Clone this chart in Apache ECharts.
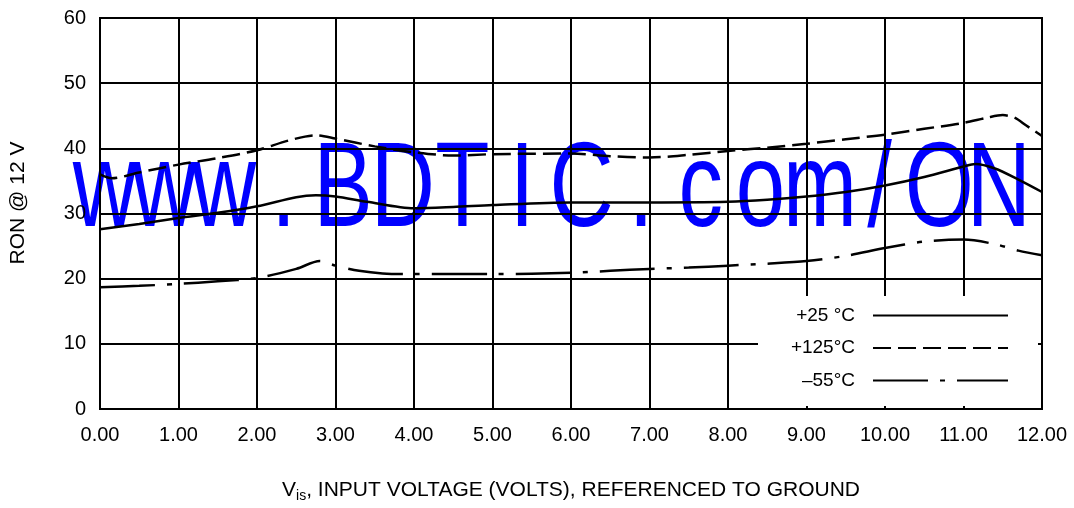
<!DOCTYPE html>
<html><head><meta charset="utf-8">
<script src="https://cdn.jsdelivr.net/npm/echarts@6/dist/echarts.min.js"></script>
<style>html,body{margin:0;padding:0;background:#fff}#c{width:1074px;height:508px}</style>
</head><body><div id="c"></div>
<script>
const xTicks = [0,1,2,3,4,5,6,7,8,9,10,11,12];
const yTicks = [0,10,20,30,40,50,60];
const seriesNames = ['+25 °C', '+125°C', '\u201355°C'];
const v25 = [0,0.5,1,1.5,2,2.5,2.75,3,3.4,4,4.5,5,6,7,8,8.5,9,9.5,10,10.5,11,11.15,11.4,11.7,12];
const r25 = [27.6,28.4,29.3,30.1,31.1,32.5,32.8,32.6,31.8,30.8,31.0,31.3,31.7,31.7,31.8,32.1,32.6,33.3,34.3,35.6,37.2,37.6,36.9,35.2,33.3];
const v125 = [0,0.15,0.5,1,1.5,2,2.4,2.75,3,3.5,4,4.5,5,6,6.5,7,7.5,8,8.5,9,9.5,10,10.5,11,11.3,11.5,11.65,11.8,12];
const r125 = [36.0,35.4,36.3,37.5,38.5,39.7,41.2,42.0,41.5,40.3,39.4,38.9,39.1,39.2,38.8,38.6,39.0,39.6,40.1,40.7,41.4,42.1,43.0,43.9,44.7,45.1,44.7,43.5,41.9];
const vm55 = [0,0.5,1,1.5,2,2.5,2.8,3.0,3.3,3.6,4,5,6,6.5,7,7.5,8,8.5,9,9.5,10,10.5,11,11.4,11.7,12];
const rm55 = [18.7,18.9,19.2,19.6,20.1,21.5,22.7,22.0,21.2,20.8,20.7,20.7,20.9,21.2,21.5,21.7,22.0,22.3,22.7,23.5,24.7,25.7,26.0,25.3,24.3,23.6];
const watermark = 'www.BDTIC.com/ON';

const pairs = (xs, ys) => xs.map((x, i) => [x, ys[i]]);
const font = '"Liberation Sans", Arial, sans-serif';
const cell = 59.6;
const wm = watermark.split('').map((ch, i) => ({
  type: 'text', x: 75 + cell * (i + 0.5), y: 193, z: -10, scaleX: 0.74,
  style: {text: ch, font: '120px ' + font, fill: '#0000ff', align: 'center', verticalAlign: 'middle', textAlign: 'center', textVerticalAlign: 'middle'}
}));
const chart = echarts.init(document.getElementById('c'));
chart.setOption({
  animation: false,
  backgroundColor: '#fff',
  textStyle: {fontFamily: font, color: '#000'},
  graphic: wm,
  grid: {left: 100, right: 32, top: 18, bottom: 92, show: true, borderColor: '#000', borderWidth: 2, backgroundColor: 'transparent'},
  xAxis: {
    type: 'value', min: xTicks[0], max: xTicks[xTicks.length - 1], interval: 1,
    axisLine: {lineStyle: {color: '#000', width: 2}}, axisTick: {show: false},
    splitLine: {show: true, lineStyle: {color: '#000', width: 2}},
    axisLabel: {color: '#000', fontSize: 20, margin: 16, formatter: v => v.toFixed(2), fontFamily: font},
    name: '{a|V}{s|is}{a|, INPUT VOLTAGE (VOLTS), REFERENCED TO GROUND}',
    nameLocation: 'middle', nameGap: 68,
    nameTextStyle: {rich: {
      a: {fontSize: 21, lineHeight: 26, color: '#000', fontFamily: font},
      s: {fontSize: 14, lineHeight: 14, verticalAlign: 'bottom', color: '#000', fontFamily: font}
    }}
  },
  yAxis: {
    type: 'value', min: yTicks[0], max: yTicks[yTicks.length - 1], interval: 10,
    axisLine: {lineStyle: {color: '#000', width: 2}}, axisTick: {show: false},
    splitLine: {show: true, lineStyle: {color: '#000', width: 2}},
    axisLabel: {color: '#000', fontSize: 20, margin: 14, fontFamily: font},
    name: 'RON @ 12 V', nameLocation: 'middle', nameGap: 71,
    nameTextStyle: {fontSize: 21, color: '#000', fontFamily: font, padding: [0, 0, 0, 21]}
  },
  legend: {
    left: 758, top: 296, orient: 'vertical', align: 'right',
    backgroundColor: '#fff', padding: [10, 29, 16, 17],
    itemWidth: 135, itemHeight: 14, itemGap: 13.5,
    itemStyle: {opacity: 0},
    formatter: '{t|{name}}',
    textStyle: {rich: {t: {width: 80, align: 'right', fontSize: 19, lineHeight: 20, color: '#000', fontFamily: font, padding: [0, 13, 0, 0]}}},
    data: seriesNames
  },
  series: [
    {name: seriesNames[0], type: 'line', data: pairs(v25, r25), smooth: 0.3, symbol: 'none',
     lineStyle: {color: '#000', width: 2.5, type: 'solid'}, itemStyle: {color: '#000'}},
    {name: seriesNames[1], type: 'line', data: pairs(v125, r125), smooth: 0.3, symbol: 'none',
     lineStyle: {color: '#000', width: 2.5, type: [18, 7]}, itemStyle: {color: '#000'}},
    {name: seriesNames[2], type: 'line', data: pairs(vm55, rm55), smooth: 0.3, symbol: 'none',
     lineStyle: {color: '#000', width: 2.5, type: [55, 12, 5, 12]}, itemStyle: {color: '#000'}}
  ]
});
</script></body></html>
